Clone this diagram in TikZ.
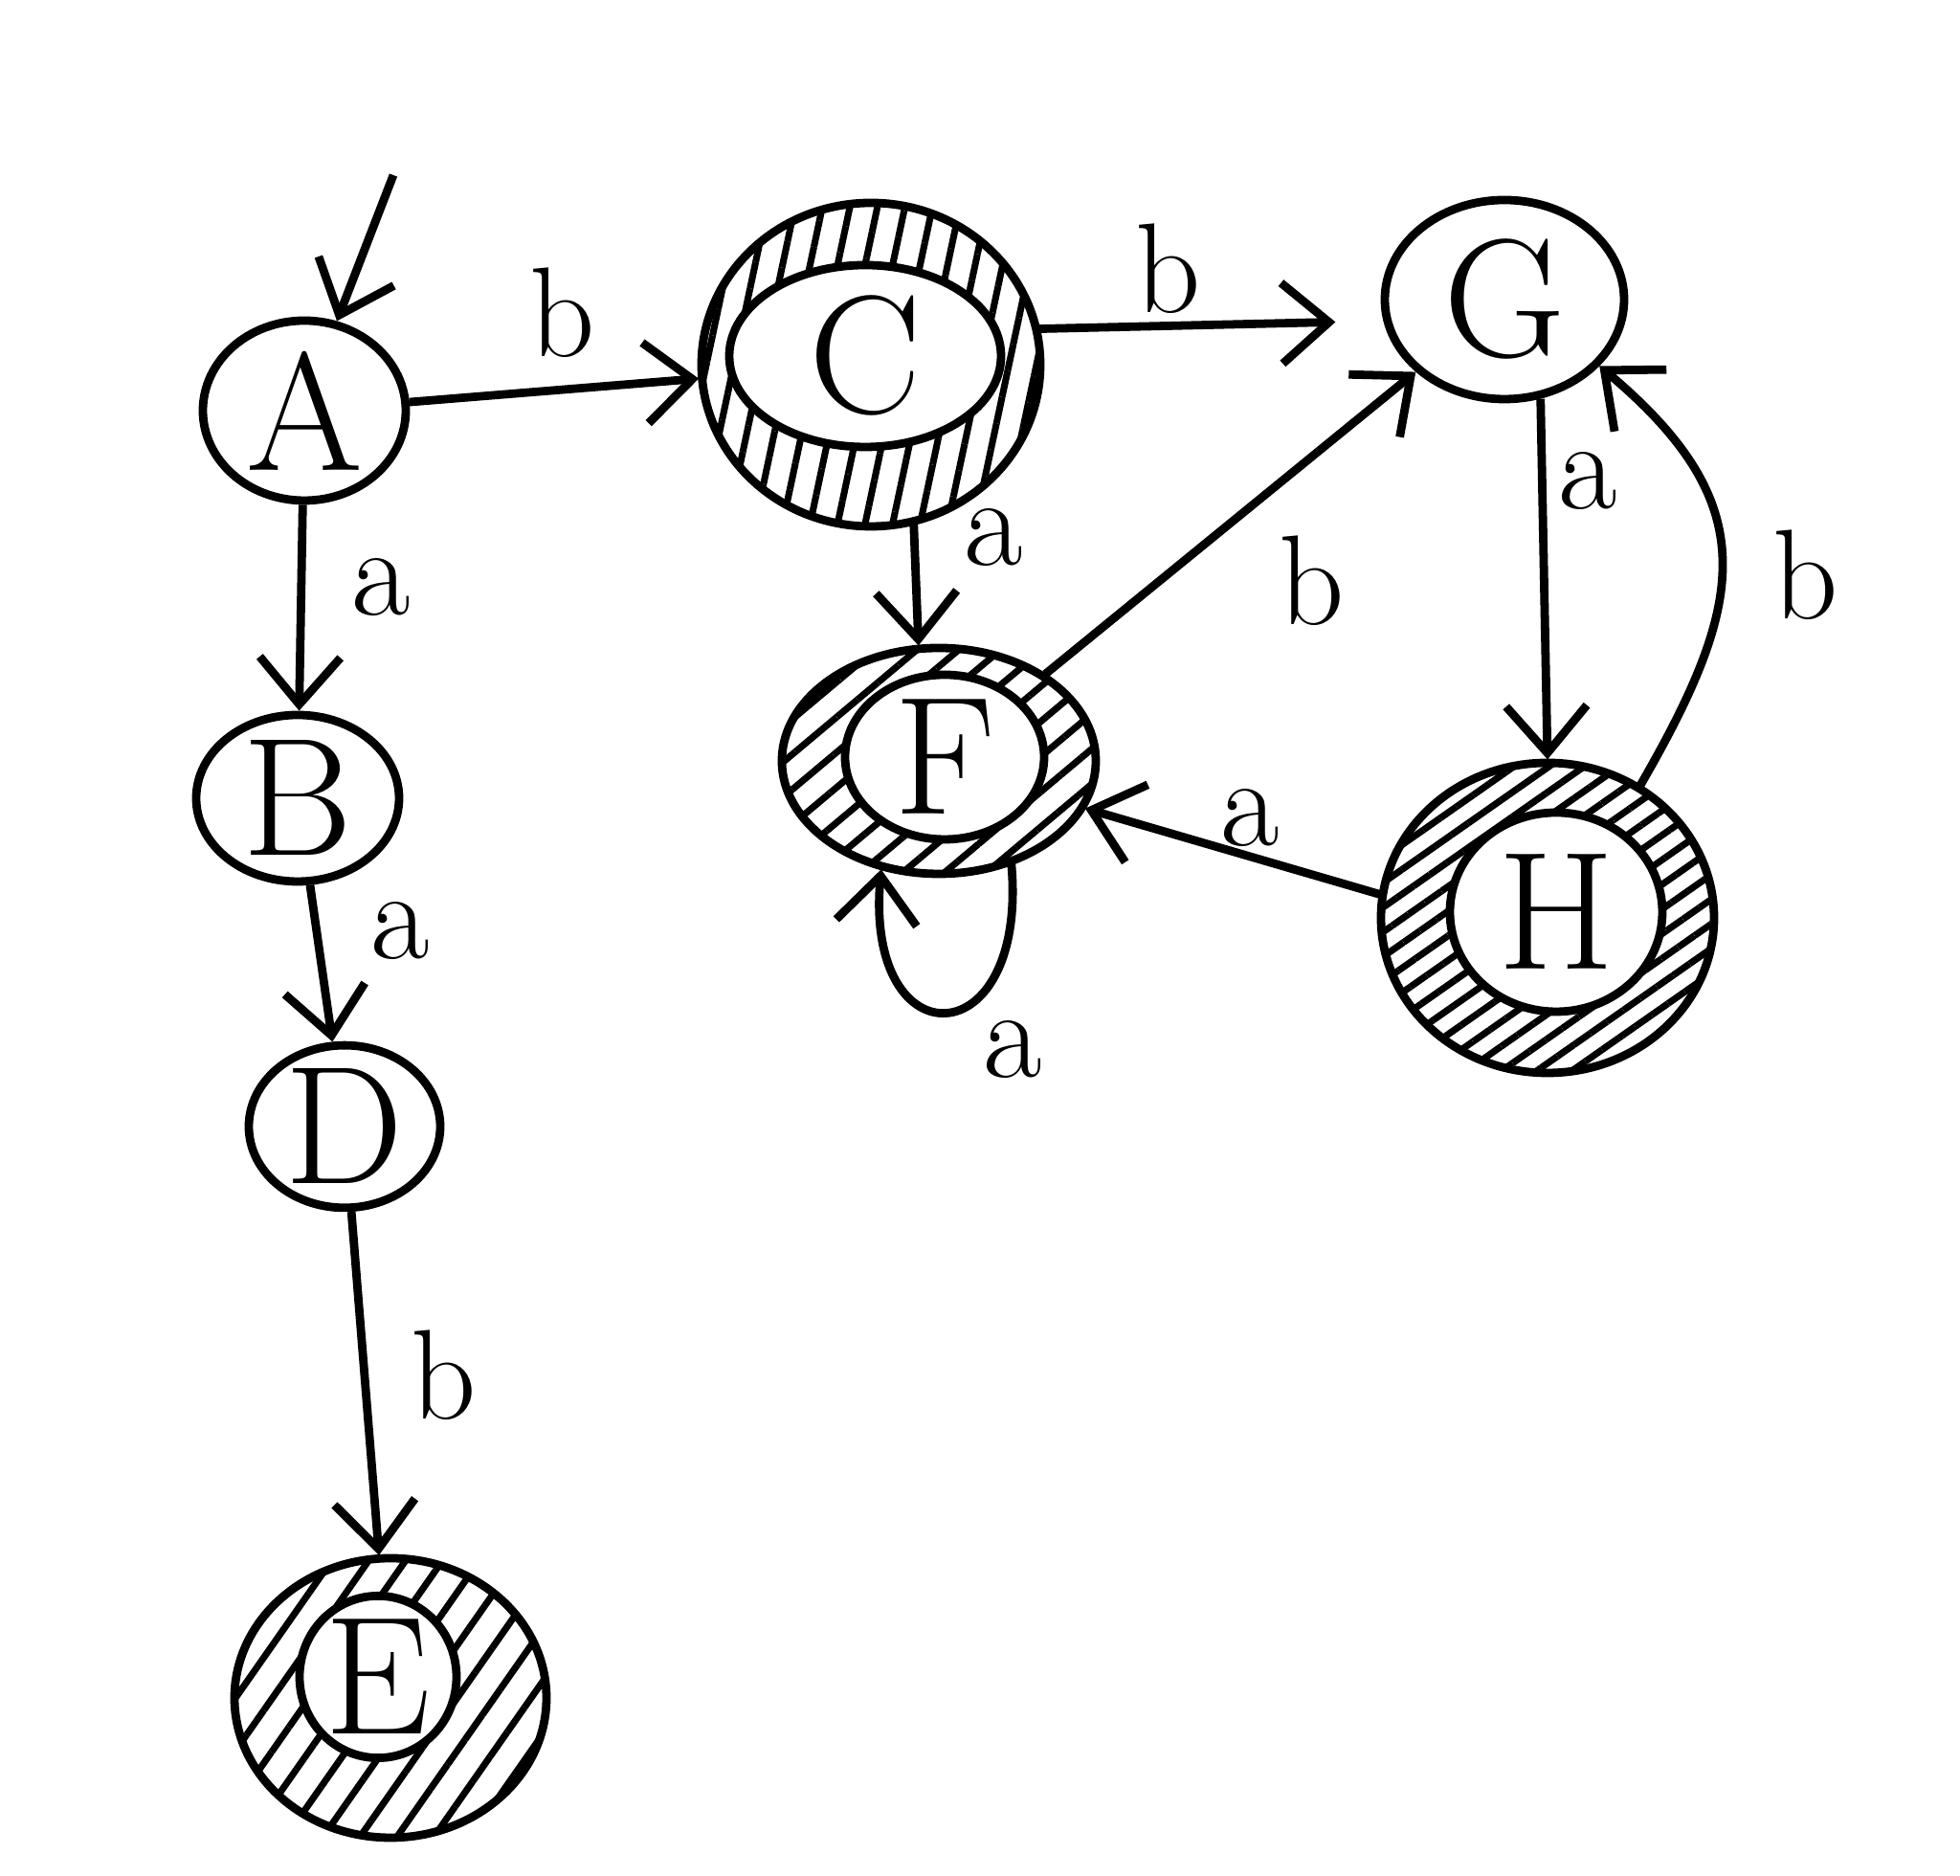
\documentclass[tikz,border=0pt]{standalone}
\usetikzlibrary{shapes.geometric,arrows.meta,patterns.meta}
\tikzset{
  state/.style={draw, ellipse, line width=2.5pt, inner sep=0pt, font=\fontsize{50}{60}\selectfont},
  ring/.style 2 args={state, pattern={Lines[angle=#1,distance=#2,line width=2pt]}},
  core/.style={state, fill=white},
  edge/.style={line width=2.5pt, -{Straight Barb[length=14pt,width=24pt]}},
  lab/.style={font=\fontsize{38}{46}\selectfont}
}
\begin{document}
\begin{tikzpicture}
            \useasboundingbox (0,0) rectangle (20.48,19.60);

            % Define the plain states
            \node[state, minimum width=2.12cm, minimum height=1.88cm] (A) at (3.18,15.31) {A};
            \node[state, minimum width=2.12cm, minimum height=1.74cm] (B) at (3.11,11.26) {B};
            \node[state, minimum width=2.00cm, minimum height=1.66cm] (D) at (3.60,7.83) {D};
            \node[state, minimum width=2.50cm, minimum height=2.08cm] (G) at (15.72,16.47) {G};

            % Define the hatched (final) states
            \node[ring={78}{8pt}, minimum width=3.54cm, minimum height=3.38cm] (C) at (9.10,15.79) {};
            \node[core, minimum width=2.84cm, minimum height=1.90cm] (Ci) at (9.04,15.88) {C};
            \node[ring={55}{9pt}, minimum width=3.26cm, minimum height=2.92cm] (E) at (4.08,1.86) {};
            \node[core, minimum width=1.64cm, minimum height=1.68cm] (Ei) at (3.95,2.08) {E};
            \node[ring={40}{8pt}, minimum width=3.28cm, minimum height=2.36cm] (F) at (9.81,11.65) {};
            \node[core, minimum width=2.08cm, minimum height=1.72cm] (Fi) at (9.87,11.69) {F};
            \node[ring={35}{6pt}, minimum width=3.48cm, minimum height=3.24cm] (H) at (16.17,10.01) {};
            \node[core, minimum width=2.22cm, minimum height=2.08cm] (Hi) at (16.26,10.07) {H};

            % Define the start arrow
            \coordinate (start) at (4.11,17.77);
            \draw[edge] (start) -- (A.70);

            % Define the transitions
            \draw[edge] (A) -- (C);
            \draw[edge] (A) -- (B);
            \draw[edge] (B) -- (D);
            \draw[edge] (D) -- (E);
            \draw[edge, shorten >=5mm] (C.12) -- (G.190);
            \draw[edge] (C.-75) -- (F.100);
            \draw[edge] (F) -- (G);
            \draw[edge] (H.172) -- (F.-18);
            \draw[edge] (G.-70) -- (H.north);
            \draw[edge] (H.55) to[out=60, in=-40, looseness=1.3] (G.-35);
            \draw[edge] (F.-55) to[out=-85, in=-95, looseness=3.8] (F.-118);

            % Add labels for the transitions
            \node[lab] (lAC) at (5.88,16.33) {b};
            \node[lab] (lAB) at (3.98,13.46) {a};
            \node[lab] (lBD) at (4.18,9.87) {a};
            \node[lab] (lDE) at (4.64,5.23) {b};
            \node[lab] (lCG) at (12.21,16.79) {b};
            \node[lab] (lCF) at (10.38,13.98) {a};
            \node[lab] (lFG) at (13.71,13.53) {b};
            \node[lab] (lHF) at (13.06,11.05) {a};
            \node[lab] (lGH) at (16.59,14.57) {a};
            \node[lab] (lHG) at (18.87,13.59) {b};
            \node[lab] (lFF) at (10.58,8.63) {a};

        \end{tikzpicture}
\end{document}
